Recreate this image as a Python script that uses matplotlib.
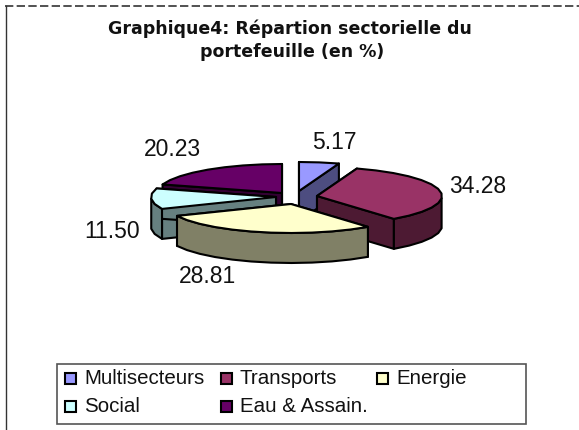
import numpy as np
import matplotlib
matplotlib.use("Agg")
import matplotlib.pyplot as plt
from matplotlib.patches import Polygon, Rectangle

plt.rcParams["font.family"] = ["Liberation Sans", "DejaVu Sans"]

categories = ["Multisecteurs", "Transports", "Energie", "Social", "Eau & Assain."]
values = [5.17, 34.28, 28.81, 11.50, 20.23]
value_labels = ["5.17", "34.28", "28.81", "11.50", "20.23"]
colors = ["#9999FF", "#993366", "#FFFFCC", "#CCFFFF", "#660066"]
side_colors = ["#4D4D80", "#4D1A33", "#808066", "#668080", "#330033"]

# apex of each exploded slice, pixels
apex = [(299, 192), (317, 197), (291, 205), (276, 198), (282, 194)]
label_pos = [(334, 143), (478, 187), (207, 277), (112, 232), (172, 150)]
RX, RY, DEPTH = 125, 29, 30

fig = plt.figure(figsize=(5.79, 4.31), dpi=100)
ax = fig.add_axes([0, 0, 1, 1])
ax.set_xlim(0, 579)
ax.set_ylim(431, 0)
ax.axis("off")


def rim(cx, cy, a0, a1):
    # coarse steps, the original outline is a bit bumpy too
    n = max(int((a1 - a0) / 9), 2)
    t = np.radians(np.linspace(a0, a1, n + 1))
    return cx + RX * np.sin(t), cy - RY * np.cos(t)


def draw_slice(i, a0, a1, z):
    cx, cy = apex[i]
    x, y = rim(cx, cy, a0, a1)
    kw = dict(ec="black", lw=1.5, joinstyle="round", zorder=z)
    # side faces first, then the rim wall, then the top
    for a in (a0, a1):
        px, py = rim(cx, cy, a, a + 1e-6)
        ax.add_patch(Polygon([(cx, cy), (px[0], py[0]), (px[0], py[0] + DEPTH), (cx, cy + DEPTH)],
                             fc=side_colors[i], **kw))
    wall = np.cos(np.radians(np.linspace(a0, a1, len(x)))) < 0.02
    if wall.any():
        wx, wy = x[wall], y[wall]
        ax.add_patch(Polygon(np.r_[np.c_[wx, wy], np.c_[wx, wy + DEPTH][::-1]],
                             fc=side_colors[i], **kw))
    ax.add_patch(Polygon(np.r_[[(cx, cy)], np.c_[x, y]], fc=colors[i], **kw))


# frame, only top and left in the original
ax.plot([5, 579], [7, 7], color="#333333", lw=1.2, ls=(0, (5, 2)))
ax.plot([5.5, 5.5], [7, 431], color="#333333", lw=1)

ax.text(290, 29, "Graphique4: Répartion sectorielle du", ha="center", va="center",
        fontsize=12.5, fontweight="bold", family="DejaVu Sans", color="#111111")
ax.text(292, 52, "portefeuille (en %)", ha="center", va="center",
        fontsize=12.5, fontweight="bold", family="DejaVu Sans", color="#111111")

edges = np.r_[0, np.cumsum(values)] / np.sum(values) * 360
# back slices first so the front ones cover them
for z, i in enumerate([4, 3, 0, 1, 2]):
    draw_slice(i, edges[i], edges[i + 1], 3 + z)

for i, lab in enumerate(value_labels):
    ax.text(label_pos[i][0], label_pos[i][1], lab, ha="center", va="center",
            fontsize=16.5, color="#111111", zorder=10)

# legend box, three equal columns filled row by row
ax.add_patch(Rectangle((57, 365), 469, 60, fc="white", ec="#555555", lw=1.2, zorder=11))
for k, (name, c) in enumerate(zip(categories, colors)):
    lx = 65 + 156 * (k % 3)
    ly = 379 + 28 * (k // 3)
    ax.add_patch(Rectangle((lx, ly - 5), 11, 11, fc=c, ec="black", lw=1.5, zorder=12))
    ax.text(lx + 19, ly, name, ha="left", va="center", fontsize=14.8, color="#111111", zorder=12)

fig.savefig("out.png", dpi=100)
